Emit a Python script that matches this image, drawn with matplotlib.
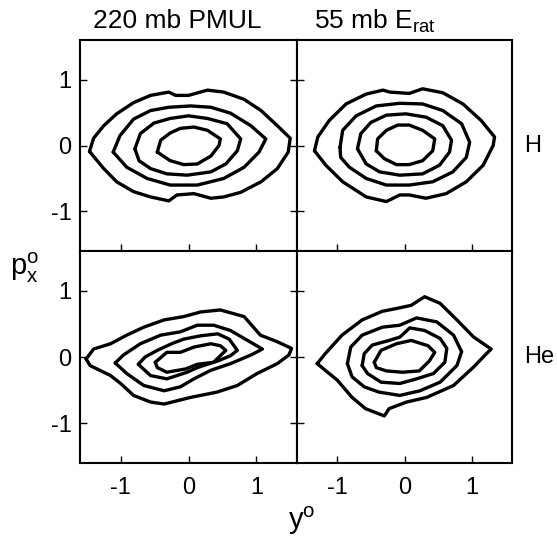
import matplotlib
matplotlib.use("Agg")
import matplotlib.pyplot as plt
import numpy as np

plt.rcParams['font.family'] = ['Liberation Sans', 'DejaVu Sans']
plt.rcParams['mathtext.fontset'] = 'custom'
plt.rcParams['mathtext.rm'] = 'Liberation Sans'
plt.rcParams['mathtext.it'] = 'Liberation Sans'

# ---------------- data: contour vertices (y°, p_x°) ----------------
col_titles = ["220 mb PMUL", r"55 mb E$_\mathrm{rat}$"]
row_labels = ["H", "He"]
tick_vals = [-1, 0, 1]
tick_labels = ["-1", "0", "1"]

# Top-left: H, 220 mb PMUL
pmul_H_1 = [(-1.46, -0.09), (-1.40, 0.11), (-1.25, 0.30), (-1.06, 0.48), (-0.81, 0.65), (-0.56, 0.76),
            (-0.29, 0.81), (-0.19, 0.76), (0.00, 0.76), (0.28, 0.84), (0.52, 0.81), (0.82, 0.70),
            (1.07, 0.53), (1.31, 0.30), (1.50, 0.11), (1.47, -0.10), (1.31, -0.35), (1.07, -0.55),
            (0.77, -0.71), (0.52, -0.78), (0.33, -0.80), (0.08, -0.73), (-0.17, -0.75), (-0.29, -0.84),
            (-0.56, -0.78), (-0.81, -0.70), (-1.06, -0.55), (-1.25, -0.35)]
pmul_H_2 = [(-1.11, -0.10), (-1.01, 0.15), (-0.81, 0.40), (-0.56, 0.53), (-0.29, 0.58), (0.03, 0.60),
            (0.33, 0.58), (0.62, 0.49), (0.92, 0.30), (1.14, 0.10), (1.04, -0.10), (0.82, -0.33),
            (0.52, -0.50), (0.13, -0.60), (-0.27, -0.60), (-0.61, -0.50), (-0.91, -0.33)]
pmul_H_3 = [(-0.79, -0.05), (-0.71, 0.18), (-0.51, 0.34), (-0.27, 0.41), (0.00, 0.45), (0.28, 0.41),
            (0.57, 0.33), (0.77, 0.10), (0.72, -0.08), (0.55, -0.28), (0.33, -0.40), (-0.02, -0.45),
            (-0.32, -0.43), (-0.56, -0.35), (-0.73, -0.23)]
pmul_H_4 = [(-0.46, -0.10), (-0.41, 0.08), (-0.27, 0.19), (-0.12, 0.26), (0.08, 0.28), (0.28, 0.23),
            (0.47, 0.10), (0.45, 0.00), (0.33, -0.16), (0.13, -0.28), (-0.07, -0.29), (-0.27, -0.23)]

# Top-right: H, 55 mb E_rat
erat_H_1 = [(-1.34, -0.08), (-1.29, 0.13), (-1.12, 0.38), (-0.87, 0.63), (-0.57, 0.78), (-0.32, 0.84),
            (-0.22, 0.81), (0.07, 0.79), (0.27, 0.86), (0.57, 0.80), (0.87, 0.63), (1.14, 0.38),
            (1.34, 0.13), (1.32, 0.00), (1.17, -0.30), (0.92, -0.55), (0.62, -0.73), (0.32, -0.80),
            (0.07, -0.75), (-0.07, -0.75), (-0.27, -0.85), (-0.57, -0.78), (-0.92, -0.55), (-1.17, -0.30)]
erat_H_2 = [(-0.96, -0.03), (-0.92, 0.23), (-0.72, 0.45), (-0.42, 0.60), (-0.07, 0.64), (0.27, 0.63),
            (0.57, 0.53), (0.85, 0.33), (0.97, 0.05), (0.92, -0.18), (0.72, -0.40), (0.42, -0.55),
            (0.07, -0.60), (-0.27, -0.60), (-0.57, -0.50), (-0.82, -0.33), (-0.95, -0.18)]
erat_H_3 = [(-0.70, -0.05), (-0.65, 0.18), (-0.50, 0.35), (-0.27, 0.46), (0.02, 0.48), (0.32, 0.43),
            (0.57, 0.30), (0.70, 0.08), (0.67, -0.10), (0.52, -0.30), (0.27, -0.43), (-0.07, -0.45),
            (-0.37, -0.40), (-0.57, -0.28)]
erat_H_4 = [(-0.42, -0.08), (-0.40, 0.10), (-0.27, 0.23), (-0.10, 0.31), (0.07, 0.31), (0.27, 0.23),
            (0.45, 0.10), (0.42, -0.08), (0.27, -0.23), (0.07, -0.29), (-0.12, -0.29), (-0.30, -0.20)]

# Bottom-left: He, 220 mb PMUL
pmul_He_1 = [(-1.51, -0.03), (-1.40, 0.12), (-1.15, 0.20), (-0.91, 0.33), (-0.66, 0.45), (-0.36, 0.56),
             (-0.07, 0.61), (0.18, 0.68), (0.47, 0.71), (0.82, 0.61), (1.06, 0.33), (1.31, 0.23),
             (1.52, 0.13), (1.48, 0.03), (1.31, -0.10), (1.01, -0.25), (0.72, -0.43), (0.42, -0.53),
             (0.03, -0.61), (-0.36, -0.71), (-0.56, -0.68), (-0.81, -0.58), (-1.00, -0.40),
             (-1.15, -0.28), (-1.45, -0.13)]
pmul_He_2 = [(-1.08, -0.09), (-0.96, 0.03), (-0.71, 0.20), (-0.41, 0.33), (-0.12, 0.38), (0.13, 0.48),
             (0.37, 0.48), (0.62, 0.40), (0.82, 0.28), (1.09, 0.12), (0.92, 0.03), (0.62, -0.10),
             (0.33, -0.20), (0.08, -0.33), (-0.12, -0.45), (-0.36, -0.51), (-0.66, -0.43), (-0.91, -0.25)]
pmul_He_3 = [(-0.74, -0.11), (-0.64, 0.00), (-0.46, 0.10), (-0.25, 0.20), (-0.07, 0.27), (0.18, 0.32),
             (0.43, 0.35), (0.60, 0.27), (0.72, 0.10), (0.62, 0.02), (0.43, -0.06), (0.13, -0.16),
             (-0.02, -0.23), (-0.32, -0.33), (-0.56, -0.28)]
pmul_He_4 = [(-0.49, -0.08), (-0.32, 0.07), (-0.12, 0.07), (0.08, 0.15), (0.33, 0.20), (0.47, 0.17),
             (0.55, 0.10), (0.37, -0.08), (0.13, -0.11), (-0.04, -0.18), (-0.32, -0.23), (-0.46, -0.16)]

# Bottom-right: He, 55 mb E_rat
erat_He_1 = [(-1.30, -0.10), (-1.18, 0.05), (-0.93, 0.33), (-0.63, 0.56), (-0.33, 0.69), (-0.13, 0.73),
             (0.10, 0.78), (0.30, 0.91), (0.53, 0.81), (0.78, 0.56), (1.03, 0.30), (1.29, 0.12),
             (1.20, 0.03), (1.03, -0.15), (0.73, -0.43), (0.33, -0.61), (0.03, -0.68), (-0.23, -0.78),
             (-0.30, -0.89), (-0.58, -0.78), (-0.78, -0.61), (-1.00, -0.35)]
erat_He_2 = [(-0.85, -0.10), (-0.80, 0.15), (-0.63, 0.33), (-0.33, 0.45), (-0.07, 0.48), (0.18, 0.59),
             (0.48, 0.53), (0.73, 0.33), (0.85, 0.08), (0.78, -0.13), (0.53, -0.38), (0.23, -0.51),
             (-0.07, -0.58), (-0.38, -0.53), (-0.60, -0.45), (-0.78, -0.30)]
erat_He_3 = [(-0.63, -0.13), (-0.60, 0.05), (-0.48, 0.18), (-0.23, 0.25), (-0.07, 0.30), (0.08, 0.44),
             (0.30, 0.40), (0.53, 0.28), (0.63, 0.13), (0.60, -0.08), (0.43, -0.25), (0.18, -0.33),
             (-0.07, -0.40), (-0.35, -0.38), (-0.55, -0.25)]
erat_He_4 = [(-0.45, -0.08), (-0.35, 0.10), (-0.12, 0.20), (0.10, 0.25), (0.35, 0.17), (0.45, 0.07),
             (0.37, -0.06), (0.22, -0.21), (-0.03, -0.23), (-0.27, -0.21), (-0.42, -0.16)]

panels = [
    [[pmul_H_1, pmul_H_2, pmul_H_3, pmul_H_4], [erat_H_1, erat_H_2, erat_H_3, erat_H_4]],
    [[pmul_He_1, pmul_He_2, pmul_He_3, pmul_He_4], [erat_He_1, erat_He_2, erat_He_3, erat_He_4]],
]

# ---------------- figure ----------------
W, H = 557, 541
fig = plt.figure(figsize=(W / 100, H / 100), dpi=100)

col_x = [(80, 297), (297, 512)]
row_y = [(40, 251), (251, 463)]
FS = 17

for r in range(2):
    for c in range(2):
        x0, x1 = col_x[c]
        y0, y1 = row_y[r]
        ax = fig.add_axes([x0 / W, (H - y1) / H, (x1 - x0) / W, (y1 - y0) / H])
        for contour in panels[r][c]:
            pts = np.array(contour + [contour[0]])
            ax.plot(pts[:, 0], pts[:, 1], color='black', lw=2.4,
                    solid_joinstyle='round', solid_capstyle='round')
        ax.set_xlim(-1.6, 1.6)
        ax.set_ylim(-1.6, 1.6)
        ax.set_xticks(tick_vals)
        ax.set_yticks(tick_vals)
        for s in ax.spines.values():
            s.set_linewidth(1.5)
        ax.tick_params(direction='in', length=5, width=1.0,
                       left=True, bottom=True, right=(c == 0), top=False,
                       labelleft=(c == 0), labelbottom=(r == 1),
                       labelsize=FS)
        ax.tick_params(axis='x', pad=10)
        ax.tick_params(axis='y', pad=6)
        if c == 0:
            ax.set_yticklabels(tick_labels)
        if r == 1:
            ax.set_xticklabels(tick_labels)

# column titles
fig.text(177 / W, 1 - 21 / H, col_titles[0], ha='center', va='center', fontsize=19)
fig.text(375 / W, 1 - 21 / H, col_titles[1], ha='center', va='center', fontsize=19)

# row labels
fig.text(524 / W, 1 - 146 / H, row_labels[0], ha='left', va='center', fontsize=FS)
fig.text(524 / W, 1 - 357 / H, row_labels[1], ha='left', va='center', fontsize=FS)

# axis labels
fig.text(24 / W, 1 - 268 / H, r'$\mathrm{p}_\mathrm{x}^\mathrm{o}$', ha='center', va='center', fontsize=21)
fig.text(302 / W, 1 - 521 / H, r'$\mathrm{y}^\mathrm{o}$', ha='center', va='center', fontsize=21)

fig.savefig('out.png', dpi=100)
